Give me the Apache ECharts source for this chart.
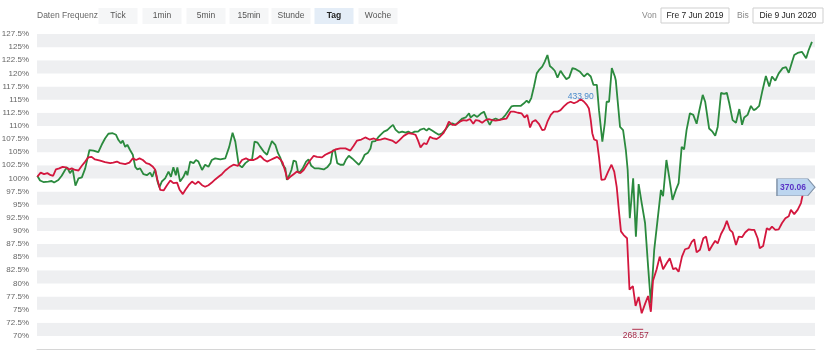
<!DOCTYPE html>
<html>
<head>
<meta charset="utf-8">
<script src="https://cdn.jsdelivr.net/npm/echarts@6/dist/echarts.min.js"></script>
<style>
html,body{margin:0;padding:0;background:#fff;}
#chart{width:830px;height:355px;}
</style>
</head>
<body>
<div id="chart"></div>
<script>
// ---- data (trading-day index, % of start) ----
const frequencyButtons = ['Tick', '1min', '5min', '15min', 'Stunde', 'Tag', 'Woche'];
const activeButton = 'Tag';
const dateFrom = 'Fre 7 Jun 2019';
const dateTo = 'Die 9 Jun 2020';
const priceLabels = ['433.90', '268.57', '370.06']; // max, min, last of red series

const greenSeries = [
[0.1,100.5],[1.0,99.6],[2.1,99.3],[3.7,99.4],[4.8,99.5],[5.6,99.2],[7.0,99.7],[8.1,100.5],[9.2,101.6],[9.9,102.1],
[10.8,101.0],[11.7,101.7],[12.6,98.6],[13.6,100.0],[14.7,100.2],[15.8,101.9],[17.2,105.4],[18.5,105.3],[20.1,105.0],[21.2,106.4],
[22.3,107.6],[23.4,108.5],[24.8,108.6],[25.9,108.3],[26.7,107.3],[27.5,106.7],[28.1,107.2],[28.9,106.0],[29.6,106.4],[30.5,105.4],
[31.4,104.5],[32.2,102.2],[32.9,101.7],[33.8,101.9],[34.9,100.8],[36.0,100.6],[37.1,101.1],[37.8,100.3],[38.7,101.7],[39.5,99.4],
[40.1,98.3],[40.9,99.4],[42.0,100.0],[43.1,101.3],[43.9,100.3],[44.7,102.1],[45.5,100.6],[46.0,102.1],[46.9,99.4],[48.0,100.3],
[48.8,101.4],[49.3,100.6],[50.2,103.2],[51.3,102.9],[52.1,103.5],[52.9,103.2],[54.1,101.6],[55.1,102.6],[56.2,102.2],[57.3,103.5],
[58.4,103.8],[60.1,103.6],[61.7,103.8],
[63.0,106.0],[64.1,108.7],[65.0,107.0],[66.1,102.6],[67.2,102.1],[68.3,102.9],[69.6,103.5],[70.5,103.6],[71.3,107.0],[72.3,106.8],
[73.2,106.0],[74.3,105.1],[75.4,104.5],[76.1,105.7],[77.0,107.1],[78.1,106.4],[79.0,104.8],[79.7,104.0],[80.5,102.6],[81.4,101.9],
[81.9,99.7],[82.7,100.6],[83.4,101.6],[84.1,103.4],[84.9,103.2],[85.6,101.1],[86.3,101.3],[87.1,101.9],[88.2,103.2],[89.0,103.6],
[89.9,102.4],[91.0,101.9],[92.3,101.9],[94.0,101.7],[95.1,102.1],[96.2,102.9],[96.9,105.3],[97.6,105.4],[98.4,102.9],[99.4,102.6],
[100.5,102.6],[101.3,103.6],[102.2,104.3],[103.3,103.8],[104.4,103.2],[105.5,102.6],[106.6,103.5],[107.4,104.5],[108.5,104.9],[109.3,105.7],
[109.8,107.0],[110.9,107.1],[111.8,107.8],[112.6,108.3],[113.7,108.9],[114.8,109.2],[115.9,109.8],[116.7,110.2],[117.5,109.3],[118.6,108.7],
[119.7,108.9],[120.8,108.7],[121.7,108.9],[122.7,108.6],[123.8,108.9],[124.9,108.9],
[125.7,109.3],[126.8,109.5],[127.7,109.1],[128.4,109.5],[129.5,109.1],[130.6,108.7],[131.7,108.3],[132.8,108.6],[133.9,109.3],[135.0,110.2],
[136.1,110.5],[137.2,110.2],[138.3,110.8],[139.4,111.4],[140.5,111.6],[141.6,112.4],[142.1,111.6],[143.2,112.1],[144.3,111.7],[145.4,112.3],
[146.5,112.7],[147.6,111.1],[148.4,110.2],[149.2,111.1],[150.3,111.4],[151.4,111.1],[152.5,111.4],[153.6,112.1],[154.3,112.7],[155.5,113.7],
[156.3,113.8],[157.4,113.8],[158.5,113.8],[159.6,114.3],[160.5,114.8],[161.2,114.4],[162.0,115.3],[162.9,117.5],[163.8,120.0],[164.5,120.6],
[165.6,121.3],[166.4,122.2],[167.3,123.5],[168.1,121.4],[168.9,121.0],[169.7,120.5],[170.6,119.2],[171.6,120.5],[172.5,119.7],[173.5,118.9],
[174.4,119.2],[175.5,121.0],[176.6,120.8],[178.0,120.3],[179.3,119.4],[180.4,120.0],[181.5,119.4],[182.4,117.8],[182.8,117.5],[183.5,117.8],
[184.2,113.0],[185.3,107.0],[186.1,110.5],[186.7,114.6],[187.5,114.6],[188.4,121.0],[189.4,119.4],
[189.7,118.7],[191.1,109.8],[192.1,109.2],[193.0,105.4],[193.6,101.6],[194.3,92.4],[195.4,100.0],[196.3,88.9],[197.2,98.9],[198.2,95.3],
[199.3,91.5],[200.3,83.2],[201.2,76.2],[202.3,86.4],[203.4,92.1],[204.5,97.8],[205.2,96.6],[206.3,103.5],[207.2,100.3],[208.3,95.9],
[209.4,97.8],[210.3,99.1],[211.3,106.0],[212.1,105.5],[212.9,109.2],[214.0,112.4],[215.1,112.1],[216.2,110.4],[217.0,112.7],[218.2,115.9],
[219.0,114.6],[220.3,109.5],[221.4,108.9],[222.3,108.1],[223.1,109.8],[224.2,116.3],[225.2,116.1],[226.1,116.3],[226.9,114.3],[228.0,111.1],
[229.1,110.6],[230.2,113.2],[231.1,110.2],[231.8,111.6],[232.9,112.1],[234.0,113.8],[234.9,113.0],[235.6,113.2],[236.7,113.8],[237.8,116.8],
[238.9,119.5],[240.0,117.5],[240.9,119.4],[242.0,118.6],[243.1,120.0],[244.4,121.0],[245.5,121.2],[246.4,120.1],[247.5,122.2],[248.2,123.5],
[249.3,123.9],[250.7,124.1],[252.1,122.9],[252.9,124.4],[254.0,126.0]
];

const redSeries = [
[0.1,100.3],[1.2,101.1],[2.3,100.8],[3.4,101.0],[4.5,100.6],[5.3,100.5],[6.2,101.7],[7.3,101.9],[8.4,102.2],[9.5,102.1],
[10.6,101.7],[11.4,101.9],[12.5,101.6],[13.6,101.5],[14.7,102.4],[15.8,103.2],[16.8,104.0],[17.9,104.1],[19.0,103.6],[20.7,103.4],
[22.3,103.1],[24.0,102.9],[25.0,103.0],[26.2,103.2],[27.2,102.9],[28.9,102.7],[30.3,103.0],[31.4,103.8],[32.5,103.5],[33.6,103.8],
[34.7,103.5],[35.8,102.9],[36.9,102.7],[38.0,102.2],[38.7,101.7],[39.5,99.7],[40.4,97.8],[41.5,97.7],[42.6,98.7],[43.7,99.6],
[44.7,99.1],[45.9,99.2],[46.7,97.9],[47.8,97.0],[48.6,97.8],[49.7,98.7],[50.8,99.4],[51.9,98.9],[52.9,99.4],[54.1,98.7],
[55.1,98.4],[56.2,98.7],[57.3,99.2],[58.4,99.8],[59.5,100.3],[60.6,100.8],[61.7,101.5],
[63.0,102.1],[64.4,102.6],[65.9,102.4],[67.2,103.5],[68.5,103.8],[69.6,103.5],[71.0,103.5],[72.1,103.8],[73.2,104.3],[74.3,103.6],
[75.4,103.2],[76.5,103.5],[77.6,103.8],[78.7,104.1],[79.8,103.6],[80.5,103.0],[81.4,101.3],[82.1,99.8],[83.0,100.3],[84.1,100.8],
[85.2,101.3],[86.3,101.0],[87.4,101.6],[88.5,102.6],[89.6,103.5],[90.7,104.3],[91.8,104.1],[93.4,104.0],[94.5,104.5],[95.6,104.8],
[96.7,105.1],[97.8,105.5],[99.4,105.7],[101.1,105.7],[102.7,105.3],[103.8,106.2],[104.9,107.2],[106.3,107.4],[107.6,107.8],[109.0,107.4],
[110.4,107.6],[111.5,107.3],[112.6,107.4],[114.0,107.6],[115.3,107.4],[116.4,107.2],[117.7,106.7],[118.8,107.3],[120.2,108.1],[121.7,108.6],
[123.0,108.5],[124.1,108.3],[124.9,107.2],
[125.7,105.9],[126.8,106.7],[127.7,106.5],[128.8,107.9],[129.9,107.6],[131.0,107.5],[132.0,107.9],[133.2,108.6],[134.2,109.7],[135.0,110.8],
[136.1,110.2],[137.2,110.2],[138.6,110.8],[139.7,111.1],[140.8,111.0],[141.9,111.3],[143.0,110.4],[143.8,111.1],[144.8,111.0],[145.9,110.6],
[147.0,111.1],[148.1,111.3],[149.2,111.1],[150.3,111.0],[151.4,111.1],[152.8,111.3],[153.9,111.4],[155.2,112.7],[156.3,112.7],[157.6,112.5],
[158.8,112.4],[159.8,111.6],[160.7,112.1],[161.6,109.7],[162.4,110.8],[163.4,111.1],[164.5,110.4],[165.6,109.2],[166.4,109.3],[167.3,110.8],
[168.4,112.1],[169.4,112.7],[170.6,112.7],[171.6,113.0],[172.7,113.7],[173.8,114.3],[174.9,114.6],[176.0,114.3],[177.1,114.6],[178.2,115.1],
[179.3,114.6],[180.2,114.0],[180.9,113.3],[181.5,111.1],[182.0,108.6],[182.6,107.4],[183.5,107.2],[184.2,104.1],[185.0,99.7],[186.1,99.8],
[187.2,101.3],[188.3,102.6],[189.2,101.3],[190.0,98.4],[190.8,93.4],[191.4,89.9],
[192.3,89.2],[193.4,88.6],[194.2,78.8],[195.3,79.5],[196.2,75.7],[197.2,77.4],[198.2,74.3],[199.3,76.1],[200.3,77.6],[201.2,74.6],
[201.9,80.5],[203.1,82.7],[204.1,85.1],[205.2,82.7],[206.3,83.8],[207.4,84.8],[208.5,82.7],[209.4,82.9],[210.3,82.2],[211.4,85.1],
[212.4,86.5],[213.6,86.7],[214.6,87.9],[215.4,88.4],[216.2,85.9],[217.3,86.4],[218.4,88.6],[219.3,88.9],[220.3,86.2],[221.4,87.3],
[222.3,88.1],[223.1,87.6],[224.2,89.4],[225.2,90.5],[226.1,91.9],[227.1,90.2],[228.0,89.7],[229.1,87.3],[230.0,88.9],[231.1,88.8],
[232.1,89.7],[233.3,90.3],[234.3,90.2],[235.1,90.2],[236.2,88.6],[236.9,86.7],[238.0,87.1],[239.2,90.5],[240.0,90.2],[240.9,90.8],
[242.0,90.2],[243.1,90.3],[244.2,91.5],[245.3,92.4],[246.4,92.8],[247.1,94.0],[248.2,93.2],[249.3,94.0],[250.4,95.3],[251.2,97.5],
[252.3,99.4],[252.9,99.6],[254.0,98.5]
];

// ---- layout / style ----
const FONT = '"Liberation Sans", Arial, Helvetica, sans-serif';
const UI_FONT = '8.5px ' + FONT;
const buttonCenters = [118, 162, 206, 249, 291, 334, 378];
const lastPoint = redSeries[redSeries.length - 1];

const graphics = [];
graphics.push({
  type: 'text', x: 37, y: 16,
  style: { text: 'Daten Frequenz', fill: '#666', font: UI_FONT, verticalAlign: 'middle' }
});
frequencyButtons.forEach((label, i) => {
  const active = label === activeButton;
  graphics.push({
    type: 'rect',
    shape: { x: buttonCenters[i] - 19.5, y: 8, width: 39, height: 16 },
    style: { fill: active ? '#e4edf7' : '#f5f6f7' }
  });
  graphics.push({
    type: 'text', x: buttonCenters[i], y: 16,
    style: {
      text: label, fill: active ? '#222' : '#555',
      font: (active ? 'bold ' : '') + UI_FONT,
      align: 'center', verticalAlign: 'middle'
    }
  });
});
graphics.push({ type: 'text', x: 642, y: 15.5, style: { text: 'Von', fill: '#888', font: UI_FONT, verticalAlign: 'middle' } });
graphics.push({ type: 'rect', shape: { x: 661, y: 8, width: 68, height: 15 }, style: { fill: '#fff', stroke: '#cfcfcf', lineWidth: 1 } });
graphics.push({ type: 'text', x: 695, y: 15.5, style: { text: dateFrom, fill: '#222', font: UI_FONT, align: 'center', verticalAlign: 'middle' } });
graphics.push({ type: 'text', x: 737, y: 15.5, style: { text: 'Bis', fill: '#888', font: UI_FONT, verticalAlign: 'middle' } });
graphics.push({ type: 'rect', shape: { x: 753, y: 8, width: 70, height: 15 }, style: { fill: '#fff', stroke: '#cfcfcf', lineWidth: 1 } });
graphics.push({ type: 'text', x: 788, y: 15.5, style: { text: dateTo, fill: '#222', font: UI_FONT, align: 'center', verticalAlign: 'middle' } });

const chart = echarts.init(document.getElementById('chart'), null, { renderer: 'canvas' });
chart.setOption({
  animation: false,
  backgroundColor: '#ffffff',
  textStyle: { fontFamily: FONT },
  graphic: graphics,
  grid: { left: 37, right: 15, top: 34, bottom: 6, containLabel: false, outerBoundsMode: 'none' },
  xAxis: {
    type: 'value', min: 0, max: 255,
    axisLine: { show: true, lineStyle: { color: '#d6d6d6', width: 1 } },
    axisTick: { show: false }, axisLabel: { show: false }, splitLine: { show: false }
  },
  yAxis: {
    type: 'value', min: 67.5, max: 127.5, interval: 2.5,
    axisLine: { show: false }, axisTick: { show: false },
    splitLine: { show: false },
    splitArea: { show: true, areaStyle: { color: ['#ffffff', '#eeeff1'] } },
    axisLabel: {
      showMinLabel: false, margin: 8, color: '#666', fontSize: 8, fontFamily: FONT,
      formatter: v => (Math.round(v * 10) / 10) + '%'
    }
  },
  series: [
    {
      name: 'green', type: 'line', data: greenSeries, showSymbol: false, symbol: 'none',
      lineStyle: { color: '#2b8a3e', width: 1.8 }, z: 2
    },
    {
      name: 'red', type: 'line', data: redSeries, showSymbol: false, symbol: 'none',
      lineStyle: { color: '#d3173e', width: 1.8 }, z: 3,
      markPoint: {
        silent: true,
        data: [
          {
            type: 'max', symbol: 'circle', symbolSize: 1,
            itemStyle: { color: 'rgba(0,0,0,0)' },
            label: { show: true, position: 'top', distance: -3, color: '#4a8bcb', fontSize: 8.5, fontFamily: FONT,
              formatter: () => priceLabels[0] }
          },
          {
            type: 'min', symbol: 'rect', symbolSize: [11, 1], symbolOffset: [-4, 16],
            itemStyle: { color: '#b2324f' },
            label: { show: true, position: 'bottom', distance: 1, offset: [-2, 0], color: '#a52a48', fontSize: 8.5, fontFamily: FONT,
              formatter: () => priceLabels[1] }
          },
          {
            coord: [lastPoint[0], lastPoint[1]],
            symbol: 'path://M0,0L30,0L37,8L30,16L0,16Z', symbolSize: [38, 17], symbolOffset: [-16, 1],
            itemStyle: { color: '#bcd5ef', borderColor: '#8294aa', borderWidth: 1 },
            label: { show: true, position: 'inside', offset: [-3, 0], color: '#5a34c6', fontSize: 8.5, fontWeight: 'bold', fontFamily: FONT,
              formatter: () => priceLabels[2] }
          }
        ]
      }
    }
  ]
});
</script>
</body>
</html>
